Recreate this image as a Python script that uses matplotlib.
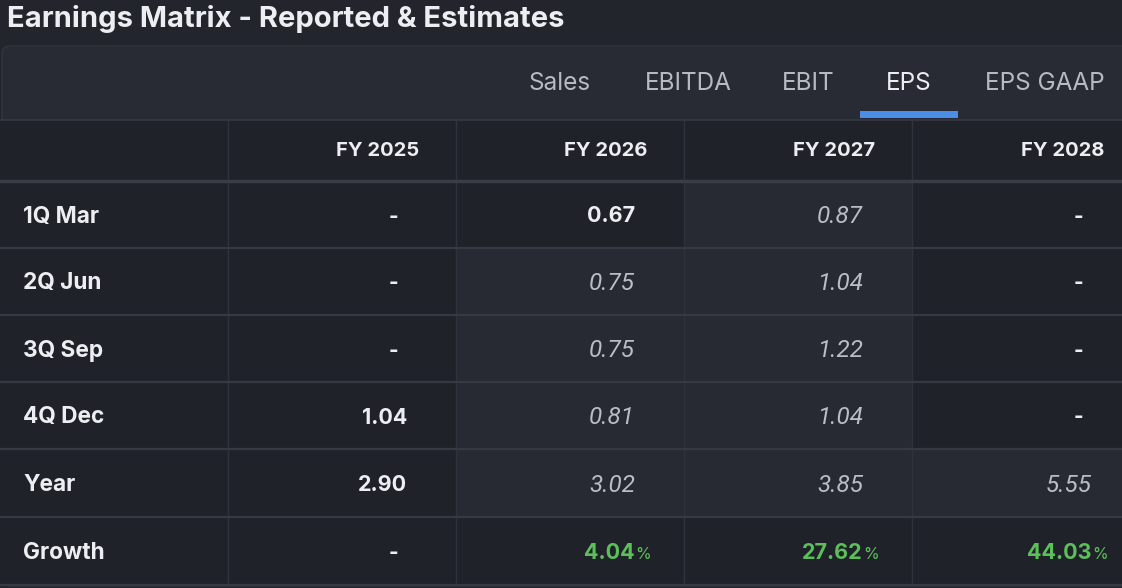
import matplotlib
matplotlib.use("Agg")
import matplotlib.pyplot as plt
from matplotlib.patches import Rectangle, FancyBboxPatch

# ---------------- data ----------------
title = "Earnings Matrix - Reported & Estimates"
tabs = ["Sales", "EBITDA", "EBIT", "EPS", "EPS GAAP"]
active_tab = "EPS"
years = ["FY 2025", "FY 2026", "FY 2027", "FY 2028"]
row_labels = ["1Q Mar", "2Q Jun", "3Q Sep", "4Q Dec", "Year", "Growth"]
fy2025 = [None, None, None, 1.04, 2.90]
fy2026 = [0.67, 0.75, 0.75, 0.81, 3.02]
fy2027 = [0.87, 1.04, 1.22, 1.04, 3.85]
fy2028 = [None, None, None, None, 5.55]
growth = [None, 4.04, 27.62, 44.03]
# True = estimate (italic, lighter cell)
est2025 = [False, False, False, False, False]
est2026 = [False, True, True, True, True]
est2027 = [True, True, True, True, True]
est2028 = [False, False, False, False, True]

columns = [fy2025, fy2026, fy2027, fy2028]
estimates = [est2025, est2026, est2027, est2028]

# ---------------- style ----------------
W, H = 1122, 588
BG = "#22252c"
TAB_BG = "#282b33"
DARK = "#1f2229"
LIGHT = "#272a32"
GRID = "#2f323a"
HLINE = "#363942"
TXT = "#eceef1"
EST_TXT = "#babdc4"
TAB_TXT = "#b7bac1"
GREEN = "#5cbf5a"
BLUE = "#4a8ee8"
FONT = ["Inter", "DejaVu Sans"]
IT_FONT = ["Roboto", "DejaVu Sans"]

fig = plt.figure(figsize=(W / 100, H / 100), dpi=100, facecolor=BG)
ax = fig.add_axes([0, 0, 1, 1])
ax.set_xlim(0, W)
ax.set_ylim(H, 0)
ax.axis("off")
ax.set_facecolor(BG)

# title
ax.text(7, 19, title, fontsize=21, fontweight="bold", color=TXT,
        family=FONT, ha="left", va="center")

# panel
panel_top, panel_bot = 46, 586
ax.add_patch(FancyBboxPatch((2, panel_top), W + 20, panel_bot - panel_top,
                            boxstyle="round,pad=0,rounding_size=8",
                            fc=TAB_BG, ec="#30333b", lw=1.2))

# tabs
tab_x = [560, 688, 808, 909, 1045]
tab_y = 84
for t, x in zip(tabs, tab_x):
    ax.text(x, tab_y, t, fontsize=17.5, color=TXT if t == active_tab else TAB_TXT,
            family=FONT, ha="center", va="center")
ax.add_patch(Rectangle((860, 111), 98, 7, fc=BLUE, ec="none"))

# table geometry
col_edges = [0, 228, 456, 684, 912, W]
header_top, header_bot = 120, 181
row_edges = [181, 248, 315, 382, 449, 517, 585]

# header background
ax.add_patch(Rectangle((0, header_top), W, header_bot - header_top, fc=DARK, ec="none"))

# body cells
nrows = len(row_labels)
for r in range(nrows):
    y0, y1 = row_edges[r], row_edges[r + 1]
    ax.add_patch(Rectangle((0, y0), col_edges[1], y1 - y0, fc=DARK, ec="none"))
    for c in range(len(years)):
        x0, x1 = col_edges[c + 1], col_edges[c + 2]
        light = r < 5 and estimates[c][r]
        ax.add_patch(Rectangle((x0, y0), x1 - x0, y1 - y0,
                               fc=LIGHT if light else DARK, ec="none"))

# grid lines
for x in col_edges[1:-1]:
    ax.plot([x, x], [header_top, row_edges[-1]], color=GRID, lw=1.0)
ax.plot([0, W], [header_top, header_top], color=HLINE, lw=1.2)
ax.plot([0, W], [header_bot, header_bot], color="#3a3d46", lw=2.5)
for y in row_edges[1:-1]:
    ax.plot([0, W], [y, y], color=HLINE, lw=1.6)
ax.plot([0, W], [row_edges[-1], row_edges[-1]], color=HLINE, lw=1.6)

# headers
head_right = [419, 647, 875, 1104]
for yr, xr in zip(years, head_right):
    ax.text(xr, 151, yr, fontsize=14.5, fontweight="bold", color=TXT,
            family=FONT, ha="right", va="center")

# body text
val_right = [407, 635, 863, 1092]
row_centers = [(row_edges[i] + row_edges[i + 1]) / 2 + 2 for i in range(nrows)]
for r, lab in enumerate(row_labels):
    yc = row_centers[r]
    ax.text(23, yc, lab, fontsize=16.3, fontweight="bold", color=TXT,
            family=FONT, ha="left", va="center")
    for c in range(len(years)):
        xr = val_right[c]
        if r < 5:
            v = columns[c][r]
            if v is None:
                ax.text(xr - 14, yc, "-", fontsize=15, fontweight="bold",
                        color=TXT, family=FONT, ha="center", va="center")
            elif estimates[c][r]:
                ax.text(xr, yc, f"{v:.2f}", fontsize=17.5, style="italic",
                        color=EST_TXT, family=IT_FONT, ha="right", va="center")
            else:
                ax.text(xr, yc, f"{v:.2f}", fontsize=15.5, fontweight="bold",
                        color=TXT, family=FONT, ha="right", va="center")
        else:
            g = growth[c]
            if g is None:
                ax.text(xr - 14, yc, "-", fontsize=15, fontweight="bold",
                        color=TXT, family=FONT, ha="center", va="center")
            else:
                ax.text(xr, yc, f"{g:.2f}", fontsize=15.5, fontweight="bold",
                        color=GREEN, family=FONT, ha="right", va="center")
                ax.text(xr + 0.5, yc + 1.5, "%", fontsize=11.5, color=GREEN,
                        family=FONT, ha="left", va="center")

fig.savefig("out.png", dpi=100, facecolor=BG)
